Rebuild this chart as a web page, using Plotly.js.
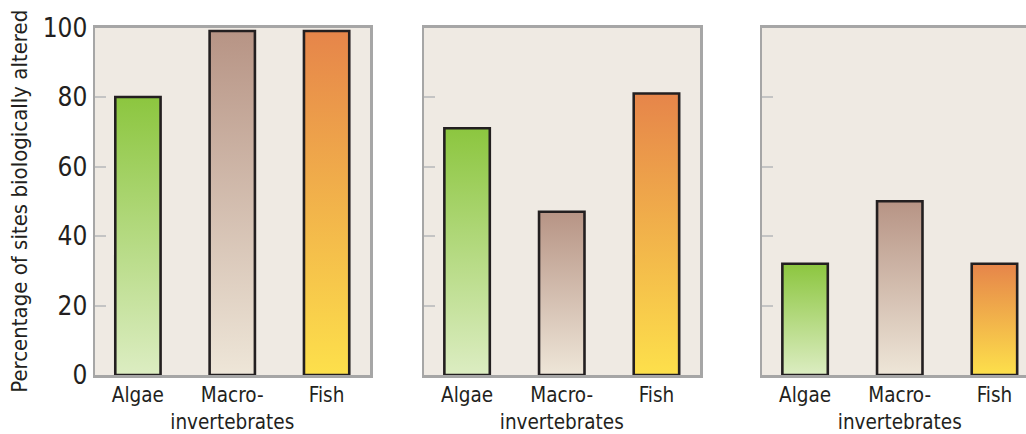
<!DOCTYPE html>
<html>
<head>
<meta charset="utf-8">
<script src="https://cdn.plot.ly/plotly-3.0.1.min.js"></script>
<style>
html,body{margin:0;padding:0;background:#fff;overflow:hidden;}
#chart{width:1040px;height:434px;}
</style>
</head>
<body>
<div id="chart"></div>
<script>
// ---- data ----
const categories = ['Algae', 'Macroinvertebrates', 'Fish'];
const tickLabels = ['Algae', 'Macro-<br>invertebrates', 'Fish'];
const panel1Values = [80, 99, 99];
const panel2Values = [71, 47, 81];
const panel3Values = [32, 50, 32];
const yTickVals = [0, 20, 40, 60, 80, 100];
const yTitle = 'Percentage of sites biologically altered';

// ---- style ----
const topColors = ['#8cc63f', '#b79485', '#e6854a'];
const bottomColors = ['#dcedc2', '#eee6d8', '#fde04b'];
const FONT = '"DejaVu Sans Condensed", "Liberation Sans Narrow", Arial, sans-serif';
const W = 1040, H = 434;
const xDomains = [[95 / W, 370 / W], [424 / W, 700 / W], [762 / W, 1038 / W]];
const yDomain = [(H - 375) / H, (H - 27.5) / H];

const panels = [panel1Values, panel2Values, panel3Values];
const traces = panels.map((vals, i) => ({
  type: 'bar',
  x: categories,
  y: vals,
  xaxis: i === 0 ? 'x' : 'x' + (i + 1),
  yaxis: i === 0 ? 'y' : 'y' + (i + 1),
  width: 0.48,
  marker: { color: topColors, line: { color: '#231f20', width: 2.6 } },
  hoverinfo: 'none'
}));

const layout = {
  width: W, height: H,
  margin: { l: 0, r: 0, t: 0, b: 0 },
  paper_bgcolor: '#ffffff',
  plot_bgcolor: '#efeae3',
  showlegend: false,
  font: { family: FONT, color: '#231f20', size: 20 },
  bargap: 0
};

for (let i = 0; i < 3; i++) {
  const sx = i === 0 ? '' : String(i + 1);
  layout['xaxis' + sx] = {
    domain: xDomains[i],
    anchor: 'y' + sx,
    type: 'category',
    range: [-0.455, 2.46],
    tickvals: categories,
    ticktext: tickLabels,
    tickangle: 0,
    ticks: '',
    showgrid: false,
    zeroline: false,
    showline: true, mirror: true,
    linecolor: '#a6a6a6', linewidth: 2.5,
    tickfont: { family: FONT, size: 20.5, color: '#231f20' },
    fixedrange: true
  };
  layout['yaxis' + sx] = {
    domain: yDomain,
    anchor: 'x' + sx,
    range: [0, 100],
    tickvals: yTickVals,
    ticks: 'inside', ticklen: 11, tickwidth: 2, tickcolor: '#c4c4c4',
    showticklabels: i === 0,
    tickfont: { family: FONT, size: 26, color: '#231f20' },
    showgrid: false,
    zeroline: false,
    showline: true, mirror: true,
    linecolor: '#a6a6a6', linewidth: 2.5,
    fixedrange: true
  };
}
layout.yaxis.title = { text: yTitle, font: { family: FONT, size: 22, color: '#231f20' }, standoff: 9 };

Plotly.newPlot('chart', traces, layout, { staticPlot: true, displayModeBar: false }).then(gd => {
  // vertical gradient fill for each bar (top colour -> light bottom)
  const svg = gd.querySelector('.main-svg');
  const NS = 'http://www.w3.org/2000/svg';
  let defs = svg.querySelector('defs');
  if (!defs) { defs = document.createElementNS(NS, 'defs'); svg.insertBefore(defs, svg.firstChild); }
  categories.forEach((c, k) => {
    const g = document.createElementNS(NS, 'linearGradient');
    g.setAttribute('id', 'barGrad' + k);
    g.setAttribute('x1', '0'); g.setAttribute('y1', '0');
    g.setAttribute('x2', '0'); g.setAttribute('y2', '1');
    const s1 = document.createElementNS(NS, 'stop');
    s1.setAttribute('offset', '0'); s1.setAttribute('stop-color', topColors[k]);
    const s2 = document.createElementNS(NS, 'stop');
    s2.setAttribute('offset', '1'); s2.setAttribute('stop-color', bottomColors[k]);
    g.appendChild(s1); g.appendChild(s2);
    defs.appendChild(g);
  });
  gd.querySelectorAll('.trace.bars').forEach(tr => {
    tr.querySelectorAll('.point path').forEach((p, k) => {
      p.style.fill = 'url(#barGrad' + k + ')';
    });
  });
});
</script>
</body>
</html>
